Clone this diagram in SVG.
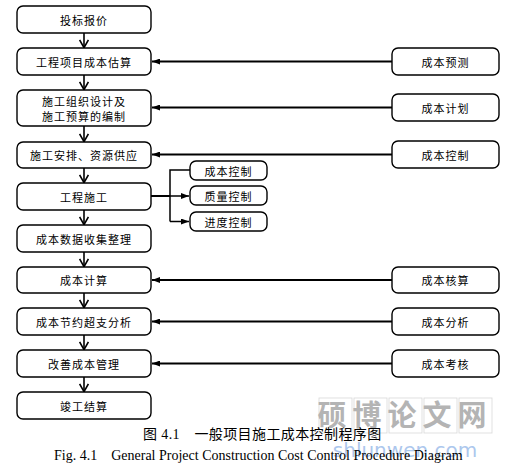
<svg xmlns="http://www.w3.org/2000/svg" width="508" height="468" viewBox="0 0 508 468">
<style>
.box{fill:#fff;stroke:#000;stroke-width:1.4}
.t{font-family:"Noto Sans CJK SC","Noto Sans",sans-serif;font-size:11px;fill:#000;text-anchor:middle;dominant-baseline:central;letter-spacing:1px}
.ln{fill:none;stroke:#000;stroke-width:2}
.vl{fill:none;stroke:#000;stroke-width:1.6}
.cap{font-family:"Liberation Serif","Noto Sans CJK SC",serif;font-size:14px;fill:#000}
</style>
<defs>
<marker id="v" viewBox="0 0 9 10" markerWidth="9" markerHeight="10" refX="8.6" refY="5" orient="auto" markerUnits="userSpaceOnUse">
<path d="M0.5,0.6 L8.3,5 L0.5,9.4" fill="none" stroke="#000" stroke-width="1.6"/>
</marker>
<marker id="h" viewBox="0 0 8 6" markerWidth="8" markerHeight="6" refX="8" refY="3" orient="auto" markerUnits="userSpaceOnUse">
<path d="M0,0 L8,3 L0,6 Z" fill="#000"/>
</marker>
</defs>
<rect width="508" height="468" fill="#fff"/>
<g id="connectors">
<line class="vl" x1="84" y1="33" x2="84" y2="48" marker-end="url(#v)"/>
<line class="vl" x1="84" y1="75" x2="84" y2="90" marker-end="url(#v)"/>
<line class="vl" x1="84" y1="126" x2="84" y2="142" marker-end="url(#v)"/>
<line class="vl" x1="84" y1="168" x2="84" y2="183" marker-end="url(#v)"/>
<line class="vl" x1="84" y1="210" x2="84" y2="225" marker-end="url(#v)"/>
<line class="vl" x1="84" y1="252" x2="84" y2="267" marker-end="url(#v)"/>
<line class="vl" x1="84" y1="293" x2="84" y2="308" marker-end="url(#v)"/>
<line class="vl" x1="84" y1="335" x2="84" y2="350" marker-end="url(#v)"/>
<line class="vl" x1="84" y1="377" x2="84" y2="392" marker-end="url(#v)"/>
<line class="ln" x1="392" y1="61.5" x2="152" y2="61.5" marker-end="url(#h)"/>
<line class="ln" x1="392" y1="107.5" x2="152" y2="107.5" marker-end="url(#h)"/>
<line class="ln" x1="392" y1="154.5" x2="152" y2="154.5" marker-end="url(#h)"/>
<line class="ln" x1="392" y1="280" x2="152" y2="280" marker-end="url(#h)"/>
<line class="ln" x1="392" y1="321.5" x2="152" y2="321.5" marker-end="url(#h)"/>
<line class="ln" x1="392" y1="363.5" x2="152" y2="363.5" marker-end="url(#h)"/>
<line class="ln" x1="151" y1="196" x2="170" y2="196"/>
<path class="ln" d="M190,170 H170 V221.5" style="stroke-width:1.5"/>
<line class="ln" x1="170" y1="196" x2="189" y2="196" marker-end="url(#h)" style="stroke-width:1.5"/>
<line class="ln" x1="170" y1="221.5" x2="189" y2="221.5" marker-end="url(#h)" style="stroke-width:1.5"/>
</g>
<g id="n1"><rect class="box" x="17" y="6" width="134" height="27" rx="6"/><text class="t" x="84" y="19.5">投标报价</text></g>
<g id="n2"><rect class="box" x="17" y="48" width="134" height="27" rx="6"/><text class="t" x="84" y="61.5">工程项目成本估算</text></g>
<g id="n3"><rect class="box" x="17" y="90" width="134" height="36" rx="6"/><text class="t" x="84" y="100.5">施工组织设计及</text><text class="t" x="84" y="116">施工预算的编制</text></g>
<g id="n4"><rect class="box" x="17" y="142" width="134" height="26" rx="6"/><text class="t" x="84" y="155">施工安排、资源供应</text></g>
<g id="n5"><rect class="box" x="17" y="183" width="134" height="27" rx="6"/><text class="t" x="84" y="196.5">工程施工</text></g>
<g id="n6"><rect class="box" x="17" y="225" width="134" height="27" rx="6"/><text class="t" x="84" y="238.5">成本数据收集整理</text></g>
<g id="n7"><rect class="box" x="17" y="267" width="134" height="26" rx="6"/><text class="t" x="84" y="280">成本计算</text></g>
<g id="n8"><rect class="box" x="17" y="308" width="134" height="27" rx="6"/><text class="t" x="84" y="321.5">成本节约超支分析</text></g>
<g id="n9"><rect class="box" x="17" y="350" width="134" height="27" rx="6"/><text class="t" x="84" y="363.5">改善成本管理</text></g>
<g id="n10"><rect class="box" x="17" y="392" width="134" height="27" rx="6"/><text class="t" x="84" y="405.5">竣工结算</text></g>
<g id="s1"><rect class="box" x="190" y="161" width="77" height="19" rx="6"/><text class="t" x="228.5" y="170.5">成本控制</text></g>
<g id="s2"><rect class="box" x="190" y="186" width="77" height="19" rx="6"/><text class="t" x="228.5" y="195.5">质量控制</text></g>
<g id="s3"><rect class="box" x="190" y="212" width="77" height="19" rx="6"/><text class="t" x="228.5" y="221.5">进度控制</text></g>
<g id="r1"><rect class="box" x="392" y="48" width="107" height="27" rx="6"/><text class="t" x="445.5" y="61.5">成本预测</text></g>
<g id="r2"><rect class="box" x="392" y="94" width="107" height="27" rx="6"/><text class="t" x="445.5" y="107.5">成本计划</text></g>
<g id="r3"><rect class="box" x="392" y="141" width="107" height="27" rx="6"/><text class="t" x="445.5" y="154.5">成本控制</text></g>
<g id="r4"><rect class="box" x="392" y="267" width="107" height="26" rx="6"/><text class="t" x="445.5" y="280">成本核算</text></g>
<g id="r5"><rect class="box" x="392" y="308" width="107" height="27" rx="6"/><text class="t" x="445.5" y="321.5">成本分析</text></g>
<g id="r6"><rect class="box" x="392" y="350" width="107" height="27" rx="6"/><text class="t" x="445.5" y="363.5">成本考核</text></g>
<g id="watermark" opacity="0.55">
<g fill="none" stroke="#bbb" stroke-width="0.8">
<rect x="319" y="398" width="33" height="35"/><rect x="354" y="398" width="33" height="35"/><rect x="389" y="398" width="33" height="35"/><rect x="424" y="398" width="33" height="35"/><rect x="459" y="398" width="33" height="35"/>
</g>
<text x="405" y="426" font-family="'Noto Sans CJK SC',sans-serif" font-size="29" font-weight="bold" fill="#777" text-anchor="middle" letter-spacing="6">硕博论文网</text>
<text x="405" y="457" font-family="'DejaVu Sans',sans-serif" font-size="20" fill="#6a9ae0" text-anchor="middle">shlunwen.com</text>
</g>
<text class="cap" x="143" y="439" letter-spacing="0.4">图 4.1　一般项目施工成本控制程序图</text>
<text class="cap" x="54" y="460" xml:space="preserve">Fig. 4.1    General Project Construction Cost Control Procedure Diagram</text>
</svg>
